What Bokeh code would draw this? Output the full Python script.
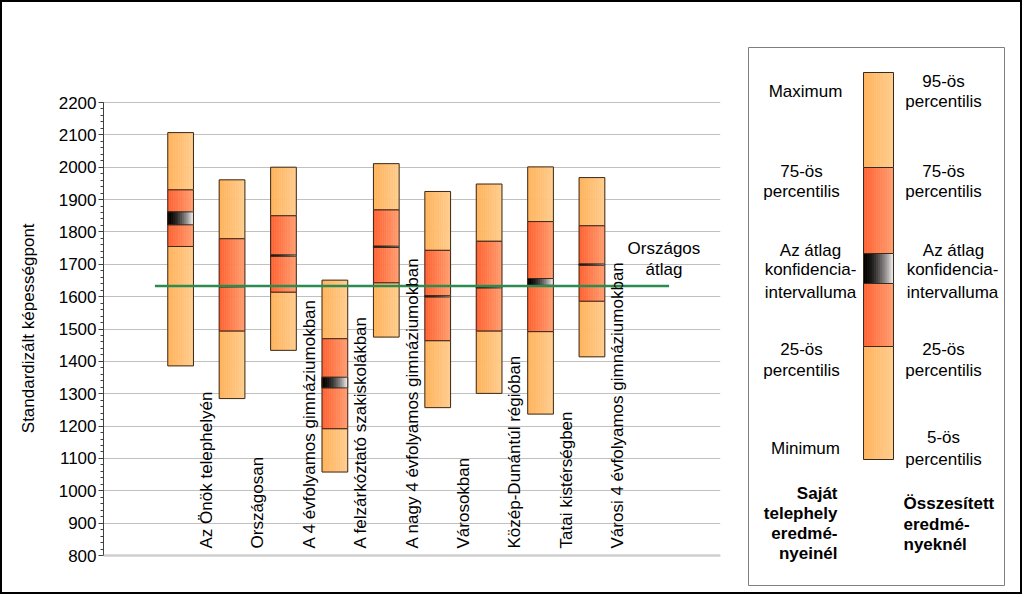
import numpy as np
from bokeh.plotting import figure
from bokeh.models import Range1d, SingleIntervalTicker, Span
from bokeh.layouts import row
from bokeh.embed import file_html
from bokeh.resources import INLINE
from bokeh.core.properties import value

# ---------------- data ----------------
categories = [
    "Az Önök telephelyén",
    "Országosan",
    "A 4 évfolyamos gimnáziumokban",
    "A felzárkóztató szakiskolákban",
    "A nagy 4 évfolyamos gimnáziumokban",
    "Városokban",
    "Közép-Dunántúl régióban",
    "Tatai kistérségben",
    "Városi 4 évfolyamos gimnáziumokban",
]
low_vals = [1386, 1285, 1434, 1058, 1475, 1257, 1301, 1237, 1414]   # minimum / 5th pct
p25_vals = [1755, 1494, 1614, 1192, 1643, 1464, 1494, 1492, 1586]
p75_vals = [1930, 1779, 1850, 1470, 1868, 1743, 1771, 1832, 1819]
high_vals = [2107, 1961, 2000, 1651, 2011, 1925, 1948, 2001, 1968]  # maximum / 95th pct
ci_low = [1822, 1630, 1725, 1318, 1752, 1599, 1627, 1635, 1697]
ci_high = [1862, 1634, 1729, 1351, 1756, 1603, 1631, 1656, 1701]
national_avg = 1633
y_min, y_max, y_step = 800, 2200, 100
axis_title = "Standardizált képességpont"
avg_label = ["Országos", "átlag"]

FONT = "Liberation Sans"
LIGHT = ("#FFB25A", "#FFCD8E")
RED = ("#FF6030", "#FF9E70")
CIC = ("#000000", "#F2F2F2")
OUTLINE = "#3A2A1C"

# layout (pixels)
AXIS_PX = 453            # pixel height of the 800..2200 axis
FRAME_H = 538            # shared frame height (legend box height)
PAD_TOP_PX = 55          # frame top to 2200
PAD_BOT_PX = FRAME_H - AXIS_PX - PAD_TOP_PX


def hex2rgb(h):
    h = h.lstrip("#")
    return tuple(int(h[i:i + 2], 16) for i in (0, 2, 4))


def lerp(c0, c1, t):
    a, b = hex2rgb(c0), hex2rgb(c1)
    return "#%02x%02x%02x" % tuple(int(round(a[i] + (b[i] - a[i]) * t)) for i in range(3))


def gradient_boxes(p, lefts, rights, bottoms, tops, cols, n=14, power=1.0):
    L, R, B, T, C = [], [], [], [], []
    for l, r, b, t in zip(lefts, rights, bottoms, tops):
        w = (r - l) / n
        for k in range(n):
            L.append(l + k * w)
            R.append(l + (k + 1) * w)
            B.append(b)
            T.append(t)
            C.append(lerp(cols[0], cols[1], ((k + 0.5) / n) ** power))
    p.quad(left=L, right=R, bottom=B, top=T, fill_color=C, line_color=C, line_width=0.6)
    p.quad(left=lefts, right=rights, bottom=bottoms, top=tops, fill_color=None,
           line_color=OUTLINE, line_width=1)


# ---------------- main chart ----------------
units_per_px = (y_max - y_min) / AXIS_PX
yr = Range1d(y_min - PAD_BOT_PX * units_per_px, y_max + PAD_TOP_PX * units_per_px)

p1 = figure(width=733, height=590, x_range=Range1d(-0.5, 11.5), y_range=yr,
            output_backend="svg", toolbar_location=None,
            min_border_left=101, min_border_right=15, min_border_top=45, min_border_bottom=7)
p1.outline_line_color = None
p1.xaxis.visible = False
p1.xgrid.visible = False
tk = SingleIntervalTicker(interval=y_step, num_minor_ticks=5)
p1.yaxis.ticker = tk
p1.yaxis.bounds = (y_min, y_max)
p1.ygrid.ticker = tk
p1.ygrid.bounds = (y_min, y_max)
p1.ygrid.grid_line_color = "#C0C0C0"
p1.yaxis.axis_line_color = "#404040"
p1.yaxis.major_tick_line_color = "#404040"
p1.yaxis.minor_tick_line_color = "#404040"
p1.yaxis.major_tick_in = 0
p1.yaxis.major_tick_out = 5
p1.yaxis.minor_tick_in = 0
p1.yaxis.minor_tick_out = 3
p1.yaxis.major_label_standoff = 2
p1.yaxis.major_label_text_font = FONT
p1.yaxis.major_label_text_font_size = "17px"
p1.yaxis.major_label_text_color = "black"
# trailing no-break spaces move the centred title down to the middle of the 800..2200 span
p1.yaxis.axis_label = axis_title + "\u00a0" * 5
p1.yaxis.axis_label_text_font = FONT
p1.yaxis.axis_label_text_font_size = "17px"
p1.yaxis.axis_label_text_font_style = "normal"
p1.yaxis.axis_label_text_color = "black"
p1.yaxis.axis_label_standoff = 18

p1.add_layout(Span(location=y_min, dimension="width", line_color="#CFCFCF", line_width=2.5))

idx = list(range(1, len(categories) + 1))
hw = 0.25
L = [i - hw for i in idx]
R = [i + hw for i in idx]
gradient_boxes(p1, L, R, low_vals, p25_vals, LIGHT)
gradient_boxes(p1, L, R, p75_vals, high_vals, LIGHT)
gradient_boxes(p1, L, R, p25_vals, p75_vals, RED)
gradient_boxes(p1, L, R, ci_low, ci_high, CIC, power=1.7)

p1.segment(x0=[idx[0] - 0.5], x1=[idx[-1] + 1.5], y0=[national_avg], y1=[national_avg],
           line_color="#2E8B50", line_width=2.5)

p1.text(x=[i + 0.5 for i in idx], y=[y_min] * len(idx), text=categories, angle=np.pi / 2,
        text_align="left", text_baseline="middle", y_offset=-7,
        text_font=value(FONT), text_font_size="17px", text_color="black")

p1.text(x=[idx[-1] + 1.4] * 2, y=[national_avg] * 2, text=avg_label, y_offset=[-37, -16],
        text_align="center", text_baseline="middle",
        text_font=value(FONT), text_font_size="17px", text_color="black")

# ---------------- legend panel ----------------
p2 = figure(width=285, height=590, x_range=Range1d(0, 256), y_range=Range1d(FRAME_H, 0),
            output_backend="svg", toolbar_location=None,
            min_border_left=13, min_border_right=16, min_border_top=45, min_border_bottom=7)
p2.axis.visible = False
p2.grid.visible = False
p2.outline_line_color = "#7F7F7F"
p2.outline_line_width = 1

bx0, bx1 = [115], [145]
gradient_boxes(p2, bx0, bx1, [25], [120], LIGHT)
gradient_boxes(p2, bx0, bx1, [299], [412], LIGHT)
gradient_boxes(p2, bx0, bx1, [120], [299], RED)
gradient_boxes(p2, bx0, bx1, [206], [236], CIC, power=1.7)

left_texts = ["Maximum", "75-ös", "percentilis", "Az átlag", "konfidencia-", "intervalluma",
              "25-ös", "percentilis", "Minimum"]
left_x = [57, 53, 53, 62, 62, 62, 53, 53, 57]
left_y = [44, 124, 144, 203, 222, 245, 302, 323, 401]
right_texts = ["95-ös", "percentilis", "75-ös", "percentilis", "Az átlag", "konfidencia-",
               "intervalluma", "25-ös", "percentilis", "5-ös", "percentilis"]
right_x = [195, 195, 195, 195, 205, 204, 204, 195, 195, 195, 195]
right_y = [34, 54, 124, 144, 203, 222, 245, 302, 323, 390, 412]
own_texts = ["Saját", "telephely", "eredmé-", "nyeinél"]
own_y = [446, 466, 486, 506]
all_texts = ["Összesített", "eredmé-", "nyeknél"]
all_y = [456, 477, 497]

common = dict(text_baseline="middle", text_font=value(FONT), text_font_size="17px",
              text_color="black")
p2.text(x=left_x, y=left_y, text=left_texts, text_align="center", **common)
p2.text(x=right_x, y=right_y, text=right_texts, text_align="center", **common)
p2.text(x=[89] * 4, y=own_y, text=own_texts, text_align="right", text_font_style="bold", **common)
p2.text(x=[155] * 3, y=all_y, text=all_texts, text_align="left", text_font_style="bold", **common)

layout = row(p1, p2, styles={"border": "2px solid black"})

open("out.html", "w").write(file_html(layout, INLINE))
